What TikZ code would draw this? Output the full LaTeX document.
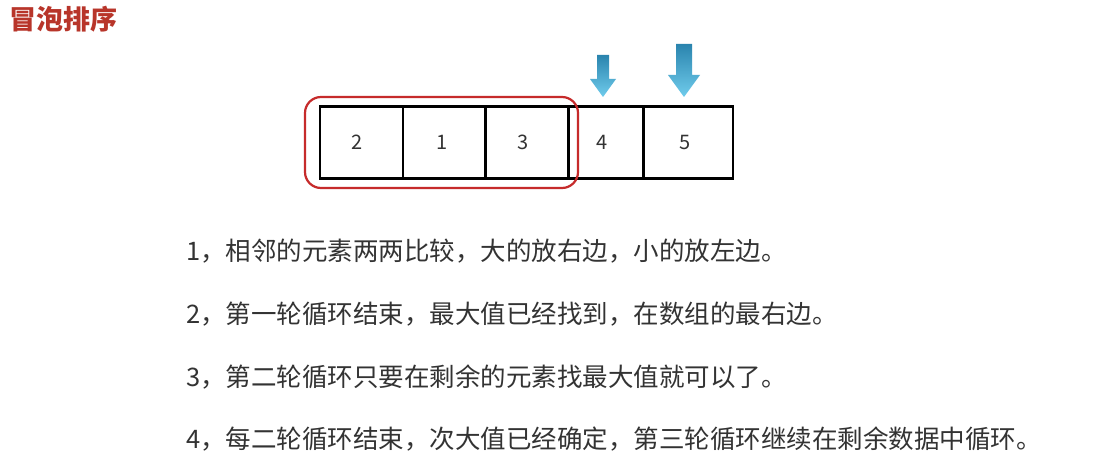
\documentclass[tikz,border=0pt]{standalone}
\usepackage{fontspec}
\newfontfamily\cjk{Noto Sans CJK SC}
\definecolor{titlered}{HTML}{B8352A}
\definecolor{boxred}{HTML}{C62B2B}
\definecolor{txt}{HTML}{333333}
\definecolor{arrtop}{HTML}{2A84AE}
\definecolor{arrbot}{HTML}{70CCEC}
\begin{document}
\begin{tikzpicture}[x=1pt,y=-1pt,
  cell/.style={draw=black,line width=2.6pt,minimum height=72pt,inner sep=0pt,font=\cjk\fontsize{20}{22}\selectfont,text=txt},
  para/.style={anchor=west,inner sep=0pt,font=\cjk\fontsize{25.5}{28}\selectfont,text=txt},
  downarrow/.style={top color=arrtop,bottom color=arrbot,draw=none}]
\useasboundingbox (0,0) rectangle (1107,465);
\fill[white] (0,0) rectangle (1107,465);
\node[anchor=west,inner sep=0pt,font=\cjk\bfseries\fontsize{27}{30}\selectfont,text=titlered] (title) at (9,19) {冒泡排序};
\node[cell,minimum width=83pt] (c1) at (361.5,142.5) {\hspace*{-8pt}2};
\node[cell,minimum width=83pt] (c2) at (444.5,142.5) {\hspace*{-5pt}1};
\node[cell,minimum width=83pt] (c3) at (527,142.5) {\hspace*{-8pt}3};
\node[cell,minimum width=75pt] (c4) at (606,142.5) {\hspace*{-8pt}4};
\node[cell,minimum width=89pt] (c5) at (688.5,142.5) {\hspace*{-7pt}5};
\draw[boxred,line width=2.2pt,rounded corners=16pt] (305,97) rectangle (578,188);
\shade[downarrow] (597,55) -- (609,55) -- (609,79) -- (616,79) -- (603,97) -- (590,79) -- (597,79) -- cycle;
\shade[downarrow] (676,44) -- (692,44) -- (692,75) -- (700,75) -- (684,97) -- (668,75) -- (676,75) -- cycle;
\node[para] (l1) at (186,251) {1，相邻的元素两两比较，大的放右边，小的放左边。};
\node[para] (l2) at (186,314) {2，第一轮循环结束，最大值已经找到，在数组的最右边。};
\node[para] (l3) at (186,377) {3，第二轮循环只要在剩余的元素找最大值就可以了。};
\node[para] (l4) at (186,439) {4，每二轮循环结束，次大值已经确定，第三轮循环继续在剩余数据中循环。};
\end{tikzpicture}
\end{document}
